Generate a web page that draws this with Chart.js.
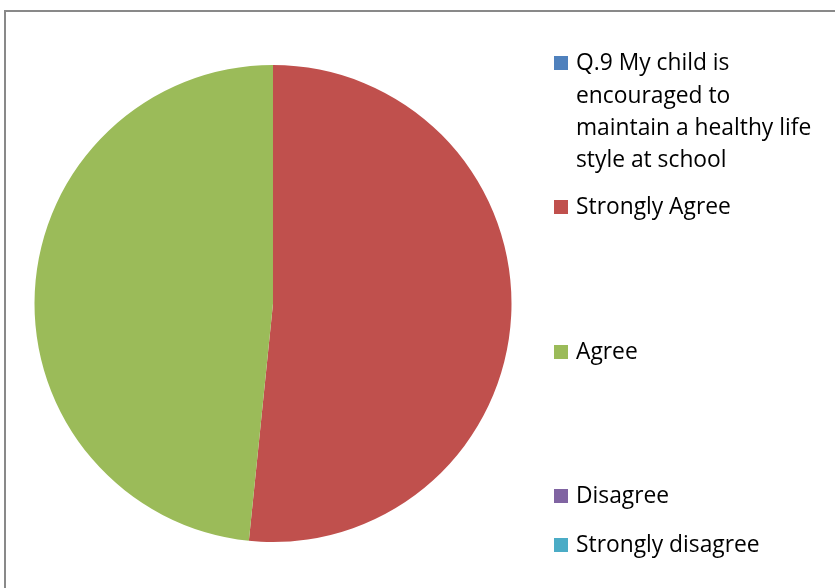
<!DOCTYPE html>
<html>
<head>
<meta charset="utf-8">
<script src="https://cdn.jsdelivr.net/npm/chart.js@4"></script>
<style>
  html, body { margin: 0; padding: 0; background: #ffffff; overflow: hidden; }
  #wrap { position: relative; width: 835px; height: 588px; }
</style>
</head>
<body>
<div id="wrap"><canvas id="c" width="835" height="588"></canvas></div>
<script>
// ---- data ----
const categories = [
  ["Q.9 My child is", "encouraged to", "maintain a healthy life", "style at school"],
  "Strongly Agree",
  "Agree",
  "Disagree",
  "Strongly disagree"
];
const responses = [0, 16, 15, 0, 0];
const sliceColors = ["#4F81BD", "#C0504D", "#9BBB59", "#8064A2", "#4BACC6"];

// ---- legend + frame plugin ----
const FONT = '22.8px "Open Sans", Lato, sans-serif';
const legendItemTops = [63, 207, 352, 496, 545]; // center y of first line of each item
const LINE_H = 32.3;

const framePlugin = {
  id: 'frame',
  beforeDraw(chart) {
    const ctx = chart.ctx;
    ctx.save();
    ctx.fillStyle = '#ffffff';
    ctx.fillRect(0, 0, chart.width, chart.height);
    ctx.strokeStyle = '#898989';
    ctx.lineWidth = 2;
    ctx.strokeRect(5, 11, 900, 700);
    ctx.restore();
  },
  afterDraw(chart) {
    const ctx = chart.ctx;
    const labels = chart.data.labels;
    const colors = chart.data.datasets[0].backgroundColor;
    ctx.save();
    ctx.font = FONT;
    ctx.textBaseline = 'middle';
    ctx.textAlign = 'left';
    labels.forEach((lab, i) => {
      const lines = Array.isArray(lab) ? lab : [lab];
      const y0 = legendItemTops[i];
      ctx.fillStyle = colors[i];
      ctx.fillRect(554, y0 - 7, 14, 14);
      ctx.fillStyle = '#000000';
      lines.forEach((ln, k) => {
        ctx.fillText(ln, 576, y0 + k * LINE_H + 1);
      });
    });
    ctx.restore();
  }
};

new Chart(document.getElementById('c'), {
  type: 'pie',
  data: {
    labels: categories,
    datasets: [{
      data: responses,
      backgroundColor: sliceColors,
      borderWidth: 0
    }]
  },
  options: {
    responsive: false,
    animation: false,
    layout: { padding: { top: 65, bottom: 46, left: 34, right: 323 } },
    plugins: {
      legend: { display: false },
      tooltip: { enabled: false }
    }
  },
  plugins: [framePlugin]
});
</script>
</body>
</html>
